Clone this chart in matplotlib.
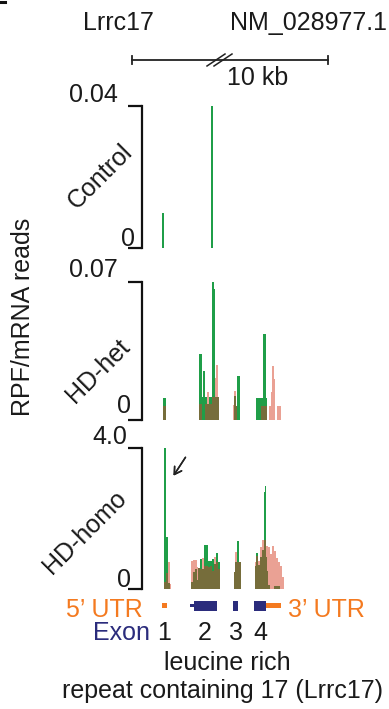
import matplotlib
matplotlib.use('Agg')
import matplotlib.pyplot as plt
from matplotlib.lines import Line2D
import numpy as np

plt.rcParams['font.family'] = ['Liberation Sans', 'DejaVu Sans']

GREEN = '#1f9e48'
PINK = '#eaa194'
OLIVE = '#766d3b'
ORANGE = '#f47a20'
NAVY = '#2b2c7c'

W, H = 389, 709
FS = 18


def fx(px):
    return px / W


def fy(py):
    return 1 - py / H


# ---- data: genomic bins along Lrrc17, values are RPF/mRNA reads ----
ctrl_bins = [2, 3, 51, 52]
ctrl_green = [0.0098, 0.0098, 0.04, 0.04]
ctrl_pink = [0, 0, 0, 0]

het_bins = [3, 4, 5, 39, 40, 41, 42, 43, 44, 45, 46, 47, 48, 49, 50, 51, 52, 53, 54, 55, 56, 57, 58,
            73, 74, 75, 76, 77, 78, 79,
            96, 97, 98, 99, 100, 101, 102, 103, 104, 105, 106, 109, 110, 111, 112, 113, 114,
            117, 118, 119, 120]
het_green = [0.0107, 0.0107, 0.0107, 0.0333, 0.0333, 0.0333, 0.0115, 0.0247, 0.0247, 0.0115, 0.0115,
             0.0078, 0.0078, 0.0115, 0.0115, 0.0115, 0.0724, 0.0724, 0.0663, 0.0115, 0.0115, 0.0115, 0.0115,
             0, 0.0118, 0.0118, 0.0071, 0.0223, 0.0223, 0.0223,
             0.0112, 0.0112, 0.0112, 0.0112, 0.0112, 0.0112, 0.0112, 0.0436, 0.0436, 0.0436, 0.0112,
             0, 0, 0, 0, 0, 0,
             0, 0, 0, 0]
het_pink = [0.0068, 0.0068, 0.0068, 0.0078, 0.0078, 0.0078, 0, 0, 0, 0.0078, 0.0078,
            0.0142, 0.0142, 0.0078, 0.0078, 0.0078, 0.0115, 0.0115, 0.0115, 0.0213, 0.0277, 0.0277, 0.0115,
            0.0076, 0.0144, 0.0144, 0.0071, 0, 0, 0,
            0, 0, 0, 0, 0, 0.0071, 0.0071, 0.0071, 0.0071, 0.0071, 0.0071,
            0.0071, 0.0071, 0.0139, 0.0274, 0.0274, 0.0208,
            0.0071, 0.0071, 0.0071, 0.0071]

homo_bins = [4, 5, 6, 7, 8, 9, 10,
             31, 32, 33, 34, 35, 36, 37, 38, 39, 40, 41, 42, 43, 44, 45, 46, 47, 48, 49,
             50, 51, 52, 53, 54, 55, 56, 57, 58, 59,
             74, 75, 76, 77, 78, 79, 80,
             95, 96, 97, 98, 99, 100, 101, 102, 103, 104, 105, 106, 107, 108, 109,
             110, 111, 112, 113, 114, 115, 116, 117, 118, 119, 120, 121, 122, 123]
homo_green = [4.0, 4.0, 1.48, 1.48, 0.18, 0.18, 0,
              0.19, 0.19, 0.47, 0.47, 0.57, 0.57, 0.26, 0.60, 0.60, 0.85, 0.85, 0.57, 0.57,
              1.25, 1.25, 1.25, 1.25, 0.79, 0.79,
              0.79, 0.79, 0.85, 0.85, 0.71, 0.71, 1.02, 1.02, 0.77, 0.77,
              0.47, 0.77, 0.77, 1.36, 1.36, 0.76, 0.76,
              0.65, 1.02, 1.02, 0.68, 0.68, 0.91, 0.91, 1.11, 1.11, 2.74, 2.92, 0.9, 0.5, 0.1, 0.1,
              0, 0, 0, 0, 0.08, 0.08, 0.08, 0.08, 0.08, 0.08, 0, 0, 0, 0]
homo_pink = [0.2, 0.2, 0.46, 0.46, 0.78, 0.78, 0.15,
             0.79, 0.79, 0.82, 0.82, 0.82, 0.82, 0.62, 0.60, 0.60, 0.57, 0.57, 0.87, 0.87,
             0.65, 0.65, 0.65, 0.65, 0.62, 0.62,
             0.66, 0.66, 0.52, 0.52, 0.91, 0.91, 0.77, 0.77, 0.57, 0.57,
             0.47, 1.04, 1.04, 0.76, 0.76, 0.76, 0.76,
             0.77, 0.93, 0.93, 0.79, 0.79, 1.18, 1.18, 1.39, 1.39, 1.39, 1.39, 1.22, 1.22, 1.19, 1.19,
             0.99, 0.99, 1.22, 1.22, 1.08, 1.08, 0.87, 0.87, 0.76, 0.76, 0.64, 0.64, 0.33, 0.33]

panel_names = ['Control', 'HD-het', 'HD-homo']
panel_ymax = [0.04, 0.07, 4.0]
panel_ticklabels = ['0.04', '0.07', '4.0']

# gene model (bins): 5'UTR, exons 1-4, 3'UTR
utr_starts = [2, 106]
utr_ends = [7, 121]
exon_starts = [30, 34, 73, 94]
exon_ends = [34, 57, 78, 106]
exon_thick = [False, True, True, True]
exon_labels = ['1', '2', '3', '4']
exon_label_bins = [4.5, 45, 76, 100]

fig = plt.figure(figsize=(W / 100, H / 100), dpi=100)

# axes geometry in pixels
x_left, x_right = 142, 290
xlim = (-18, 130)
rows = [(106, 248), (282, 419.5), (448, 589)]
series = [(ctrl_bins, ctrl_green, ctrl_pink),
          (het_bins, het_green, het_pink),
          (homo_bins, homo_green, homo_pink)]

for (top, bottom), (bins, g, p), ymax in zip(rows, series, panel_ymax):
    ax = fig.add_axes([fx(x_left), fy(bottom), fx(x_right) - fx(x_left), (bottom - top) / H])
    g = np.array(g)
    p = np.array(p)
    ax.bar(bins, g, width=1, align='edge', color=GREEN, linewidth=0)
    ax.bar(bins, p, width=1, align='edge', color=PINK, linewidth=0)
    ax.bar(bins, np.minimum(g, p), width=1, align='edge', color=OLIVE, linewidth=0)
    ax.set_xlim(*xlim)
    ax.set_ylim(0, ymax)
    for s in ['top', 'right', 'bottom']:
        ax.spines[s].set_visible(False)
    ax.spines['left'].set_linewidth(1.6)
    ax.spines['left'].set_color('#111111')
    ax.set_yticks([0, ymax])
    ax.set_yticklabels([])
    ax.tick_params(axis='y', direction='out', length=10, width=1.6, color='#111111')
    ax.set_xticks([])
    ax.patch.set_alpha(0)

# tick labels and panel names (hand placed like the original)
tick_txt = [('0.04', 118, 102), ('0', 135, 246),
            ('0.07', 118, 277), ('0', 131, 413),
            ('4.0', 127, 444), ('0', 131, 587)]
for t, px, py in tick_txt:
    fig.text(fx(px), fy(py), t, ha='right', va='baseline', fontsize=FS, color='#1a1a1a')

for name, (cx, cy) in zip(panel_names, [(100, 177), (98, 371), (85, 532)]):
    fig.text(fx(cx), fy(cy), name, rotation=45, ha='center', va='center', fontsize=FS, color='#1a1a1a')

fig.text(fx(23), fy(317), 'RPF/mRNA reads', rotation=90, ha='center', va='center', fontsize=FS,
         color='#1a1a1a')

# header
fig.text(fx(118), fy(30), 'Lrrc17', ha='center', va='baseline', fontsize=FS, color='#1a1a1a')
fig.text(fx(230), fy(30), 'NM_028977.1', ha='left', va='baseline', fontsize=FS, color='#1a1a1a')
fig.add_artist(Line2D([fx(132), fx(328)], [fy(60), fy(60)], transform=fig.transFigure, lw=1.3, color='#222222'))
for xx in [132, 328]:
    fig.add_artist(Line2D([fx(xx), fx(xx)], [fy(56), fy(64)], transform=fig.transFigure, lw=1.3, color='#222222'))
for x0 in [207, 214]:
    fig.add_artist(Line2D([fx(x0), fx(x0 + 18)], [fy(66), fy(54)], transform=fig.transFigure, lw=1.1,
                          color='#222222'))
fig.text(fx(227), fy(85), '10 kb', ha='left', va='baseline', fontsize=FS, color='#1a1a1a')
fig.add_artist(Line2D([fx(0), fx(5)], [fy(1.5), fy(1.5)], transform=fig.transFigure, lw=2.2, color='#111111'))

# arrow pointing at the homo peak
fig.add_artist(plt.annotate('', xy=(fx(172), fy(478)), xytext=(fx(187), fy(455)),
                            xycoords='figure fraction', textcoords='figure fraction',
                            arrowprops=dict(arrowstyle='->,head_length=0.5,head_width=0.3', lw=1.1,
                                            color='#222222')))

# gene model
gx = fig.add_axes([fx(x_left), fy(615.5), fx(x_right) - fx(x_left), 20 / H])
gx.set_xlim(*xlim)
gx.set_ylim(-10, 10)
gx.axis('off')
for s, e in zip(utr_starts, utr_ends):
    gx.bar(s, 5, width=e - s, bottom=-2.5, align='edge', color=ORANGE, linewidth=0)
for s, e, thick in zip(exon_starts, exon_ends, exon_thick):
    h = 10 if thick else 3.4
    gx.bar(s, h, width=e - s, bottom=-h / 2, align='edge', color=NAVY, linewidth=0)

fig.text(fx(143), fy(617), '5\u2019 UTR', ha='right', va='baseline', fontsize=FS, color=ORANGE)
fig.text(fx(288), fy(617), '3\u2019 UTR', ha='left', va='baseline', fontsize=FS, color=ORANGE)
fig.text(fx(93), fy(640), 'Exon', ha='left', va='baseline', fontsize=FS, color=NAVY)
for lab, b in zip(exon_labels, exon_label_bins):
    px = x_left + (b - xlim[0]) / (xlim[1] - xlim[0]) * (x_right - x_left)
    fig.text(fx(px), fy(640), lab, ha='center', va='baseline', fontsize=FS, color='#1a1a1a')

fig.text(fx(227), fy(670), 'leucine rich', ha='center', va='baseline', fontsize=FS, color='#1a1a1a')
fig.text(fx(223), fy(698), 'repeat containing 17 (Lrrc17)', ha='center', va='baseline', fontsize=FS,
         color='#1a1a1a')

fig.savefig('out.png', dpi=100)
